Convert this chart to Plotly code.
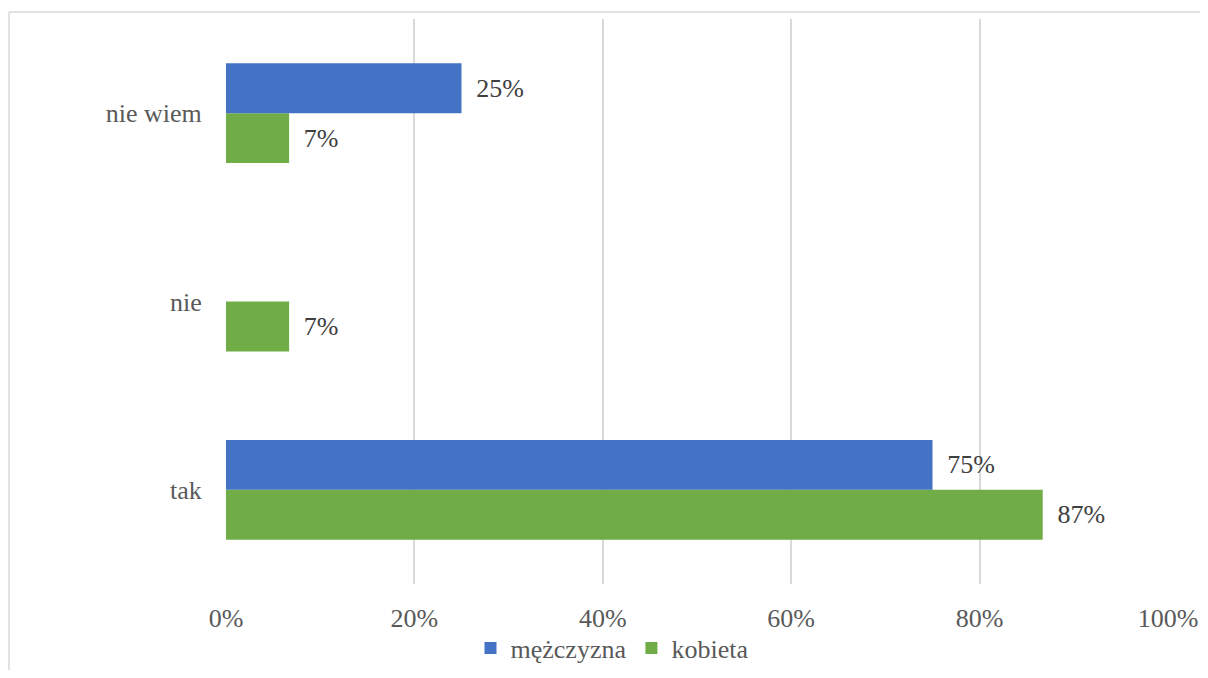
import plotly.graph_objects as go

categories = ["tak", "nie", "nie wiem"]
men_values = [75, None, 25]
women_values = [86.7, 6.7, 6.7]
x_ticks = [0, 20, 40, 60, 80, 100]
x_tick_labels = ["0%", "20%", "40%", "60%", "80%", "100%"]

font_family = "Liberation Serif"
gray = "#595959"
fs = 26

# page body has an 8px margin, so the figure is laid out in shifted coordinates
W, H = 1192, 662
L, R, T, B = 218, 32, 11, 86
PW = W - L - R
PH = H - T - B

label_tpl = "\u00a0\u2009%{x:.0f}%"

fig = go.Figure()
fig.add_trace(go.Bar(
    y=categories, x=women_values, orientation="h", name="kobieta",
    marker=dict(color="#70AD47", line=dict(width=0)),
    texttemplate=label_tpl, textposition="outside",
    textfont=dict(family=font_family, size=fs, color="#404040"),
    cliponaxis=False,
))
fig.add_trace(go.Bar(
    y=categories, x=men_values, orientation="h", name="mężczyzna",
    marker=dict(color="#4472C4", line=dict(width=0)),
    texttemplate=label_tpl, textposition="outside",
    textfont=dict(family=font_family, size=fs, color="#404040"),
    cliponaxis=False,
))

fig.update_layout(
    width=W, height=H,
    margin=dict(l=L, r=R, t=T, b=B, autoexpand=False),
    paper_bgcolor="white", plot_bgcolor="white",
    barmode="group", bargap=0.47, bargroupgap=0,
    font=dict(family=font_family, size=fs, color=gray),
    showlegend=True,
    legend=dict(
        orientation="h", traceorder="reversed",
        xref="paper", yref="container",
        x=(604 - L) / PW, xanchor="center", y=1 - 640 / H, yanchor="middle",
        font=dict(family=font_family, size=fs, color=gray),
        bgcolor="rgba(0,0,0,0)",
        itemwidth=30,
    ),
    xaxis=dict(
        range=[0, 100], tickvals=x_ticks, ticktext=x_tick_labels,
        showgrid=True, gridcolor="#D9D9D9", gridwidth=1.5,
        zeroline=False, showline=False,
        ticks="outside", ticklen=11, tickcolor="rgba(0,0,0,0)",
        tickfont=dict(family=font_family, size=fs, color=gray),
    ),
    yaxis=dict(
        categoryorder="array", categoryarray=categories,
        range=[-0.5, 2.5],
        showgrid=False, zeroline=False, showline=False,
        ticks="outside", ticklen=18, tickcolor="rgba(0,0,0,0)",
        tickfont=dict(family=font_family, size=fs, color=gray),
    ),
    shapes=[
        dict(type="line", xref="paper", yref="paper",
             x0=(1 - L) / PW, x1=(W + 20 - L) / PW,
             y0=(T + PH - 4) / PH, y1=(T + PH - 4) / PH,
             line=dict(color="#D9D9D9", width=1.5)),
        dict(type="line", xref="paper", yref="paper",
             x0=(1 - L) / PW, x1=(1 - L) / PW,
             y0=(T + PH - 4) / PH, y1=(T + PH - H - 20) / PH,
             line=dict(color="#D9D9D9", width=1.5)),
    ],
)

fig.write_html("out.html")
